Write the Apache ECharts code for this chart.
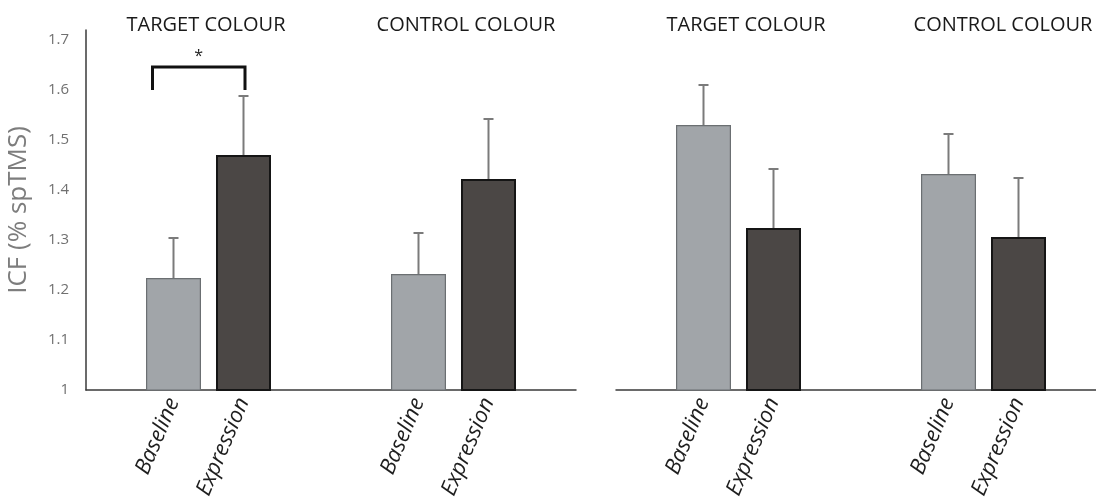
<!DOCTYPE html>
<html>
<head>
<meta charset="utf-8">
<script src="https://cdn.jsdelivr.net/npm/echarts@6/dist/echarts.min.js"></script>
<style>
  html, body { margin: 0; padding: 0; background: #fff; }
  #chart { width: 1096px; height: 497px; }
</style>
</head>
<body>
<div id="chart"></div>
<script>
// ICF (% spTMS) before/after expression, two panels
const conditions = ['Baseline', 'Expression'];
const groups = ['TARGET COLOUR', 'CONTROL COLOUR'];
const yTicks = [1, 1.1, 1.2, 1.3, 1.4, 1.5, 1.6, 1.7];

// left panel: target baseline, target expression, control baseline, control expression
const leftMeans = [1.224, 1.470, 1.232, 1.422];
const leftErrors = [0.080, 0.118, 0.082, 0.120];
// right panel
const rightMeans = [1.530, 1.324, 1.432, 1.306];
const rightErrors = [0.080, 0.118, 0.080, 0.118];

// significance bracket between target baseline and expression (left panel)
const sigBracket = { from: 0, to: 1, legValue: 1.6, topValue: 1.646, label: '*' };

// each panel is split into 14 narrow slots; bars sit on slots 2, 4, 9, 11
const SLOT_COUNT = 14;
const barSlots = [2, 4, 9, 11];
const slotLabels = new Array(SLOT_COUNT).fill('');
barSlots.forEach((s, i) => { slotLabels[s] = conditions[i % 2]; });

const baseStyle = { color: '#a1a5a9', borderColor: '#6b6f72', borderWidth: 1.2 };
const exprStyle = { color: '#4b4745', borderColor: '#151515', borderWidth: 2 };

function barData(means) {
  const d = new Array(SLOT_COUNT).fill(null);
  barSlots.forEach((s, i) => {
    d[s] = { value: means[i], itemStyle: i % 2 === 0 ? baseStyle : exprStyle };
  });
  return d;
}
function errData(means, errs) {
  return barSlots.map((s, i) => [s, means[i], errs[i]]);
}

function renderError(params, api) {
  const x = api.value(0), m = api.value(1), e = api.value(2);
  const p0 = api.coord([x, m]);
  const p1 = api.coord([x, m + e]);
  const st = { stroke: '#7b7b7b', lineWidth: 2 };
  return {
    type: 'group',
    children: [
      { type: 'line', shape: { x1: p0[0], y1: p0[1], x2: p1[0], y2: p1[1] }, style: st },
      { type: 'line', shape: { x1: p1[0] - 5, y1: p1[1], x2: p1[0] + 5, y2: p1[1] }, style: st }
    ]
  };
}

function renderBracket(params, api) {
  const a = api.coord([api.value(0), api.value(2)]);
  const b = api.coord([api.value(1), api.value(2)]);
  const top = api.coord([api.value(0), api.value(3)])[1];
  const xl = a[0] - 21, xr = b[0] + 1.5;
  return {
    type: 'group',
    children: [
      { type: 'polyline', shape: { points: [[xl, a[1]], [xl, top], [xr, top], [xr, b[1]]] },
        style: { stroke: '#111', lineWidth: 3, fill: null } },
      { type: 'text', style: { text: sigBracket.label, x: (xl + xr) / 2, y: top - 3,
        align: 'center', verticalAlign: 'bottom', fontSize: 16, fill: '#222',
        fontFamily: 'Open Sans' } }
    ]
  };
}

const axisLineStyle = { color: '#3a3a3a', width: 1.5 };
const catAxis = (gridIndex) => ({
  type: 'category', gridIndex, data: slotLabels, boundaryGap: true,
  axisLine: { show: true, lineStyle: axisLineStyle },
  axisTick: { show: false },
  axisLabel: { interval: 0, rotate: 67, margin: 9, fontSize: 22, fontStyle: 'italic',
    color: '#1e1e1e', fontFamily: 'Open Sans' },
  splitLine: { show: false }
});
const valAxis = (gridIndex, visible) => ({
  type: 'value', gridIndex, min: 1, max: 1.72, interval: 0.1,
  show: visible,
  name: visible ? 'ICF (% spTMS)' : '',
  nameLocation: 'middle', nameGap: 54, nameRotate: 90,
  nameTextStyle: { fontSize: 26, color: '#7d7d7d', fontFamily: 'Open Sans' },
  axisLine: { show: true, lineStyle: axisLineStyle },
  axisTick: { show: false },
  splitLine: { show: false },
  axisLabel: { showMaxLabel: false, margin: 17, fontSize: 15, color: '#707070',
    fontFamily: 'Open Sans',
    formatter: (v) => {
      const t = yTicks.find(k => Math.abs(k - v) < 1e-6);
      return t === undefined ? '' : String(t);
    } }
});

const titleCenters = [201, 461, 741, 998];
const titleTexts = [groups[0], groups[1], groups[0], groups[1]];

const option = {
  animation: false,
  backgroundColor: '#ffffff',
  title: titleTexts.map((t, i) => ({
    text: t, left: titleCenters[i], top: 10, textAlign: 'center',
    textStyle: { fontSize: 20, fontWeight: 'normal', color: '#1a1a1a', fontFamily: 'Open Sans' }
  })),
  grid: [
    { left: 86, top: 30, width: 490, bottom: 107, containLabel: false, outerBoundsMode: 'none' },
    { left: 616, top: 30, width: 490, bottom: 107, containLabel: false, outerBoundsMode: 'none' }
  ],
  xAxis: [catAxis(0), catAxis(1)],
  yAxis: [valAxis(0, true), valAxis(1, false)],
  series: [
    { type: 'custom', xAxisIndex: 0, yAxisIndex: 0, renderItem: renderError,
      data: errData(leftMeans, leftErrors), z: 1 },
    { type: 'custom', xAxisIndex: 1, yAxisIndex: 1, renderItem: renderError,
      data: errData(rightMeans, rightErrors), z: 1 },
    { type: 'bar', xAxisIndex: 0, yAxisIndex: 0, barWidth: 55, data: barData(leftMeans), z: 2 },
    { type: 'bar', xAxisIndex: 1, yAxisIndex: 1, barWidth: 55, data: barData(rightMeans), z: 2 },
    { type: 'custom', xAxisIndex: 0, yAxisIndex: 0, renderItem: renderBracket, z: 3,
      data: [[barSlots[sigBracket.from], barSlots[sigBracket.to], sigBracket.legValue, sigBracket.topValue]] }
  ]
};

const chart = echarts.init(document.getElementById('chart'));
chart.setOption(option);
</script>
</body>
</html>
